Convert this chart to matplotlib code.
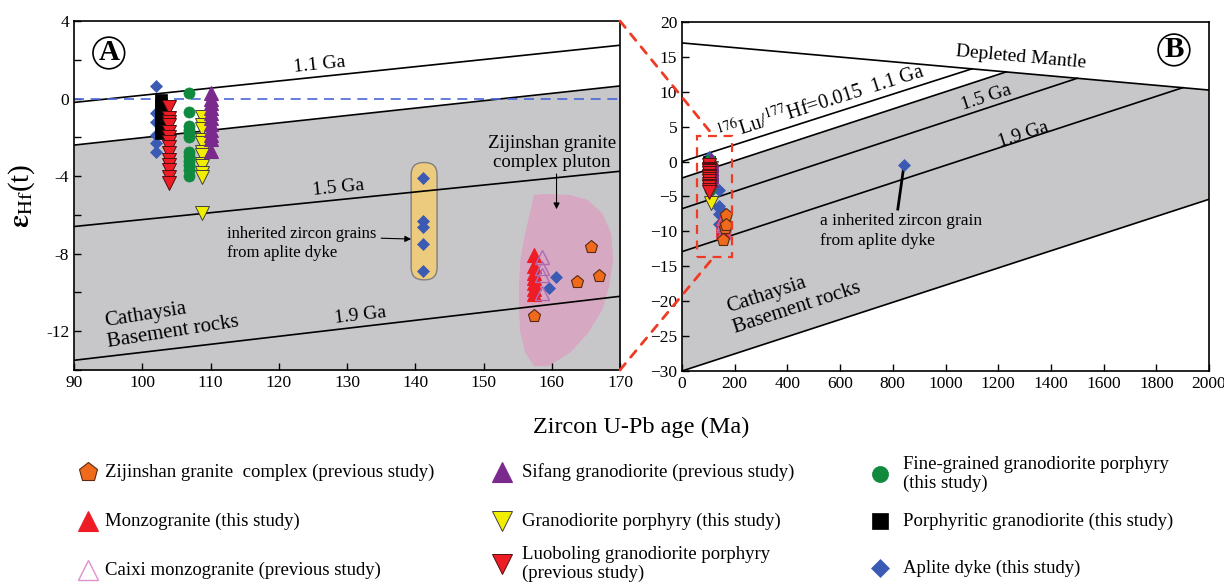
import numpy as np
import matplotlib
matplotlib.use("Agg")
import matplotlib.pyplot as plt
from matplotlib.lines import Line2D
from matplotlib.patches import Polygon, FancyBboxPatch, Rectangle, ConnectionPatch

plt.rcParams["font.family"] = ["Liberation Serif", "DejaVu Serif"]
plt.rcParams["mathtext.fontset"] = "stix"

# ---- data (age in Ma, epsilon Hf(t)) ----
aplite_age = [102.0, 102.0, 102.0, 102.0, 102.0, 102.0, 141.1, 141.1, 141.1, 141.1, 141.1, 160.65, 159.6, 841.0]
aplite_ehf = [0.65, -0.75, -1.2, -1.9, -2.3, -2.75, -4.08, -6.3, -6.6, -7.5, -8.9, -9.2, -9.75, -0.55]

porph_age = [102.7] * 7
porph_ehf = [-0.05, -0.3, -0.6, -0.9, -1.2, -1.5, -1.8]

luoboling_age = [103.9] * 14
luoboling_ehf = [-0.45, -1.0, -1.2, -1.35, -1.7, -2.0, -2.25, -2.5, -2.8, -3.15, -3.45, -3.7, -4.05, -4.35]

finegrained_age = [106.9] * 12
finegrained_ehf = [0.3, -0.7, -1.4, -1.6, -1.8, -2.0, -2.75, -2.95, -3.2, -3.45, -3.7, -4.0]

granodiorite_age = [108.7] * 12
granodiorite_ehf = [-0.95, -1.35, -1.55, -2.15, -2.3, -2.75, -2.9, -3.35, -3.5, -3.85, -4.05, -5.9]

sifang_age = [110.0] * 11
sifang_ehf = [0.3, 0.0, -0.25, -0.5, -0.75, -1.0, -1.3, -1.6, -1.9, -2.1, -2.7]

monzo_age = [157.4] * 7
monzo_ehf = [-8.05, -8.65, -9.0, -9.25, -9.5, -9.8, -10.1]

caixi_age = [158.5] * 4
caixi_ehf = [-8.15, -8.75, -9.1, -10.05]

zijinshan_age = [165.75, 163.75, 166.9, 157.35]
zijinshan_ehf = [-7.65, -9.45, -9.15, -11.2]

# panel A reference lines (values at 90 and 170 Ma)
a_line_x = [90, 170]
a_line_11 = [-0.2, 2.75]
a_line_13 = [-2.4, 0.65]
a_line_15 = [-6.6, -3.75]
a_line_19 = [-13.5, -10.2]

# panel B: depleted mantle and crustal evolution lines
dm_x = [0, 2000]
dm_y = [17.0, 10.25]
crust_start = [0.0, -2.35, -6.75, -12.9]
crust_end_age = [1100, 1230, 1500, 1900]
low_x = [0, 2000]
low_y = [-30.0, -5.4]

# outline of the Zijinshan pluton field (panel A)
pluton_x = [157.4, 159.0, 162.7, 165.3, 167.4, 168.7, 169.0, 168.4, 167.4, 165.3, 162.7,
            159.5, 157.4, 156.1, 155.4, 155.2, 155.2, 155.4, 156.1, 156.9]
pluton_y = [-4.97, -4.92, -4.97, -5.23, -5.92, -6.95, -8.33, -9.7, -10.9, -12.1, -13.1,
            -13.8, -13.8, -13.1, -12.1, -10.9, -9.7, -8.3, -6.95, -5.75]

styles = {
    "zijinshan": dict(marker="p", mfc="#f06a1c", mec="#5a2a10", ms=9.5, mew=0.8),
    "monzo": dict(marker="^", mfc="#ee1c24", mec="#ee1c24", ms=9.5, mew=0.8),
    "caixi": dict(marker="^", mfc="none", mec="#b06ab4", ms=9.5, mew=1.0),
    "sifang": dict(marker="^", mfc="#7a2a8c", mec="#7a2a8c", ms=9.5, mew=0.8),
    "granodiorite": dict(marker="v", mfc="#f2ee00", mec="#404040", ms=9.5, mew=0.7),
    "luoboling": dict(marker="v", mfc="#ee1c24", mec="#501010", ms=9.5, mew=0.7),
    "finegrained": dict(marker="o", mfc="#108a3e", mec="#108a3e", ms=8, mew=0.5),
    "porph": dict(marker="s", mfc="black", mec="black", ms=8, mew=0.5),
    "aplite": dict(marker="D", mfc="#3a5ab4", mec="#3a5ab4", ms=6.5, mew=0.5),
}

# drawing order (later = on top)
series = [
    ("aplite", aplite_age, aplite_ehf),
    ("porph", porph_age, porph_ehf),
    ("finegrained", finegrained_age, finegrained_ehf),
    ("granodiorite", granodiorite_age, granodiorite_ehf),
    ("sifang", sifang_age, sifang_ehf),
    ("luoboling", luoboling_age, luoboling_ehf),
    ("monzo", monzo_age, monzo_ehf),
    ("caixi", caixi_age, caixi_ehf),
    ("zijinshan", zijinshan_age, zijinshan_ehf),
]

GRAY = "#c7c7c9"
W, H = 1224, 585


def px_axes(left, top, right, bottom):
    return [left / W, 1 - bottom / H, (right - left) / W, (bottom - top) / H]


def plot_points(ax):
    for key, x, y in series:
        ax.plot(x, y, ls="none", zorder=5, **styles[key])


def style_axes(ax):
    for s in ax.spines.values():
        s.set_linewidth(1.2)
    ax.tick_params(direction="in", length=5, width=1, labelsize=12.5, top=False, right=False)


fig = plt.figure(figsize=(12.24, 5.85), dpi=100)

# ---------------- panel A ----------------
axA = fig.add_axes(px_axes(74, 21, 620, 370))
axA.set_xlim(90, 170)
axA.set_ylim(-14, 4)
axA.fill_between(a_line_x, a_line_13, -14, color=GRAY, lw=0, zorder=0)
for yy in (a_line_11, a_line_13, a_line_15, a_line_19):
    axA.plot(a_line_x, yy, color="black", lw=1.2, zorder=2)
axA.axhline(0, color="#4a66d6", lw=1.2, ls=(0, (6, 4)), zorder=2)

axA.add_patch(Polygon(np.column_stack([pluton_x, pluton_y]), closed=True,
                      fc="#d6a8c2", ec="none", zorder=1))
axA.add_patch(FancyBboxPatch((139.4, -9.35), 3.8, 6.05,
                             boxstyle="round,pad=0,rounding_size=1.8", mutation_aspect=0.35,
                             fc="#eccb7f", ec="#808080", lw=1, zorder=1))
plot_points(axA)

axA.text(126, 1.75, "1.1 Ga", fontsize=14, ha="center", va="center",
         rotation=np.degrees(np.arctan(2.95 / 80)), transform_rotates_text=True)
axA.text(128.7, -4.6, "1.5 Ga", fontsize=14, ha="center", va="center",
         rotation=np.degrees(np.arctan(2.85 / 80)), transform_rotates_text=True)
axA.text(132.0, -11.2, "1.9 Ga", fontsize=14, ha="center", va="center",
         rotation=np.degrees(np.arctan(3.3 / 80)), transform_rotates_text=True)
axA.text(104.3, -11.5, "Cathaysia\nBasement rocks", fontsize=15, ha="center", va="center",
         multialignment="left", rotation=9, rotation_mode="anchor", linespacing=1.15)
axA.text(112.4, -7.45, "inherited zircon grains\nfrom aplite dyke", fontsize=12,
         ha="left", va="center", linespacing=1.25)
axA.annotate("", xy=(139.8, -7.25), xytext=(134.6, -7.2),
             arrowprops=dict(arrowstyle="-|>", color="black", lw=0.8, mutation_scale=9))
axA.text(160.0, -2.8, "Zijinshan granite\ncomplex pluton", fontsize=13.5,
         ha="center", va="center", linespacing=1.15)
axA.annotate("", xy=(160.7, -5.85), xytext=(160.7, -3.75),
             arrowprops=dict(arrowstyle="-|>", color="black", lw=0.8, mutation_scale=9))
axA.text(95.1, 2.35, "A", fontsize=21, fontweight="bold", ha="center", va="center", zorder=6,
         bbox=dict(boxstyle="circle,pad=0.08", fc="white", ec="black", lw=1.2))

axA.set_xticks(np.arange(90, 171, 10))
axA.set_yticks(np.arange(-14, 4.1, 2))
axA.set_yticklabels(["" if v % 4 else f"{v:g}" for v in np.arange(-14, 4.1, 2)])
axA.set_ylabel(r"$\boldsymbol{\varepsilon}_{\mathrm{Hf}}$(t)", fontsize=21)
axA.yaxis.set_label_coords(-0.068, 0.5)
style_axes(axA)

# ---------------- panel B ----------------
axB = fig.add_axes(px_axes(682, 22, 1209, 371))
axB.set_xlim(0, 2000)
axB.set_ylim(-30, 20)

end_y = np.interp(crust_end_age, dm_x, dm_y)
gray_x = [0, crust_end_age[1], dm_x[1], low_x[1], low_x[0]]
gray_y = [crust_start[1], end_y[1], dm_y[1], low_y[1], low_y[0]]
axB.fill(gray_x, gray_y, color=GRAY, lw=0, zorder=0)
axB.plot(dm_x, dm_y, color="black", lw=1.2, zorder=2)
for y0, t1, y1 in zip(crust_start, crust_end_age, end_y):
    axB.plot([0, t1], [y0, y1], color="black", lw=1.2, zorder=2)
axB.plot(low_x, low_y, color="black", lw=1.2, zorder=2)

plot_points(axB)

slope_b = 13.2 / 1100
axB.text(1287, 14.9, "Depleted Mantle", fontsize=14, ha="center", va="center",
         rotation=np.degrees(np.arctan(-6.75 / 2000)), transform_rotates_text=True)
axB.text(527, 8.35, r"$^{176}$Lu/$^{177}$Hf=0.015  1.1 Ga", fontsize=14.5, ha="center", va="center",
         rotation=np.degrees(np.arctan(slope_b)), transform_rotates_text=True)
axB.text(1156, 9.2, "1.5 Ga", fontsize=14, ha="center", va="center",
         rotation=np.degrees(np.arctan(18.5 / 1500)), transform_rotates_text=True)
axB.text(1295, 3.9, "1.9 Ga", fontsize=14, ha="center", va="center",
         rotation=np.degrees(np.arctan(23.3 / 1900)), transform_rotates_text=True)
axB.text(424, -19.5, "Cathaysia\nBasement rocks", fontsize=15, ha="center", va="center",
         multialignment="left", rotation=np.degrees(np.arctan(24.6 / 2000)),
         transform_rotates_text=True, rotation_mode="anchor", linespacing=1.15)
axB.text(524, -9.9, "a inherited zircon grain\nfrom aplite dyke", fontsize=12.5,
         ha="left", va="center", linespacing=1.3)
axB.plot([819, 841], [-6.8, -0.9], color="black", lw=2, zorder=4)
axB.text(1867, 16.0, "B", fontsize=21, fontweight="bold", ha="center", va="center", zorder=6,
         bbox=dict(boxstyle="circle,pad=0.08", fc="white", ec="black", lw=1.2))

axB.add_patch(Rectangle((56, -13.7), 135, 17.37, fill=False, ec="#ef3b24",
                        lw=1.6, ls=(0, (4, 3)), zorder=6))
axB.set_xticks(np.arange(0, 2001, 200))
axB.set_yticks(np.arange(-30, 21, 5))
style_axes(axB)

# zoom connectors from panel A to the box in panel B
for ya, yb in ((1, 3.67), (0, -13.7)):
    con = ConnectionPatch(xyA=(1, ya), coordsA=axA.transAxes, xyB=(120, yb), coordsB=axB.transData,
                          color="#ef3b24", lw=2, ls=(0, (3, 3)), zorder=7)
    fig.add_artist(con)

fig.text(641 / W, 1 - 427 / H, "Zircon U-Pb age (Ma)", fontsize=17.5, ha="center", va="center")

# ---------------- legend ----------------
lax = fig.add_axes([0, 0, 1, 1])
lax.set_xlim(0, W)
lax.set_ylim(H, 0)
lax.axis("off")

legend_items = [
    ("zijinshan", "Zijinshan granite  complex (previous study)", 88, 105, 472),
    ("monzo", "Monzogranite (this study)", 88, 105, 521),
    ("caixi", "Caixi monzogranite (previous study)", 88, 105, 570),
    ("sifang", "Sifang granodiorite (previous study)", 502, 522, 472),
    ("granodiorite", "Granodiorite porphyry (this study)", 502, 522, 521),
    ("luoboling", "Luoboling granodiorite porphyry\n(previous study)", 502, 522, 564),
    ("finegrained", "Fine-grained granodiorite porphyry\n(this study)", 880, 903, 474),
    ("porph", "Porphyritic granodiorite (this study)", 880, 903, 521),
    ("aplite", "Aplite dyke (this study)", 880, 903, 568),
]
for key, label, mx, tx, y in legend_items:
    st = dict(styles[key])
    st["ms"] = st["ms"] * 1.45
    if key == "caixi":
        st["mec"] = "#e090cc"
    lax.add_line(Line2D([mx], [y], ls="none", **st))
    lax.text(tx, y, label, fontsize=13.5, ha="left", va="center", linespacing=1.2)

fig.savefig("out.png", dpi=100)
